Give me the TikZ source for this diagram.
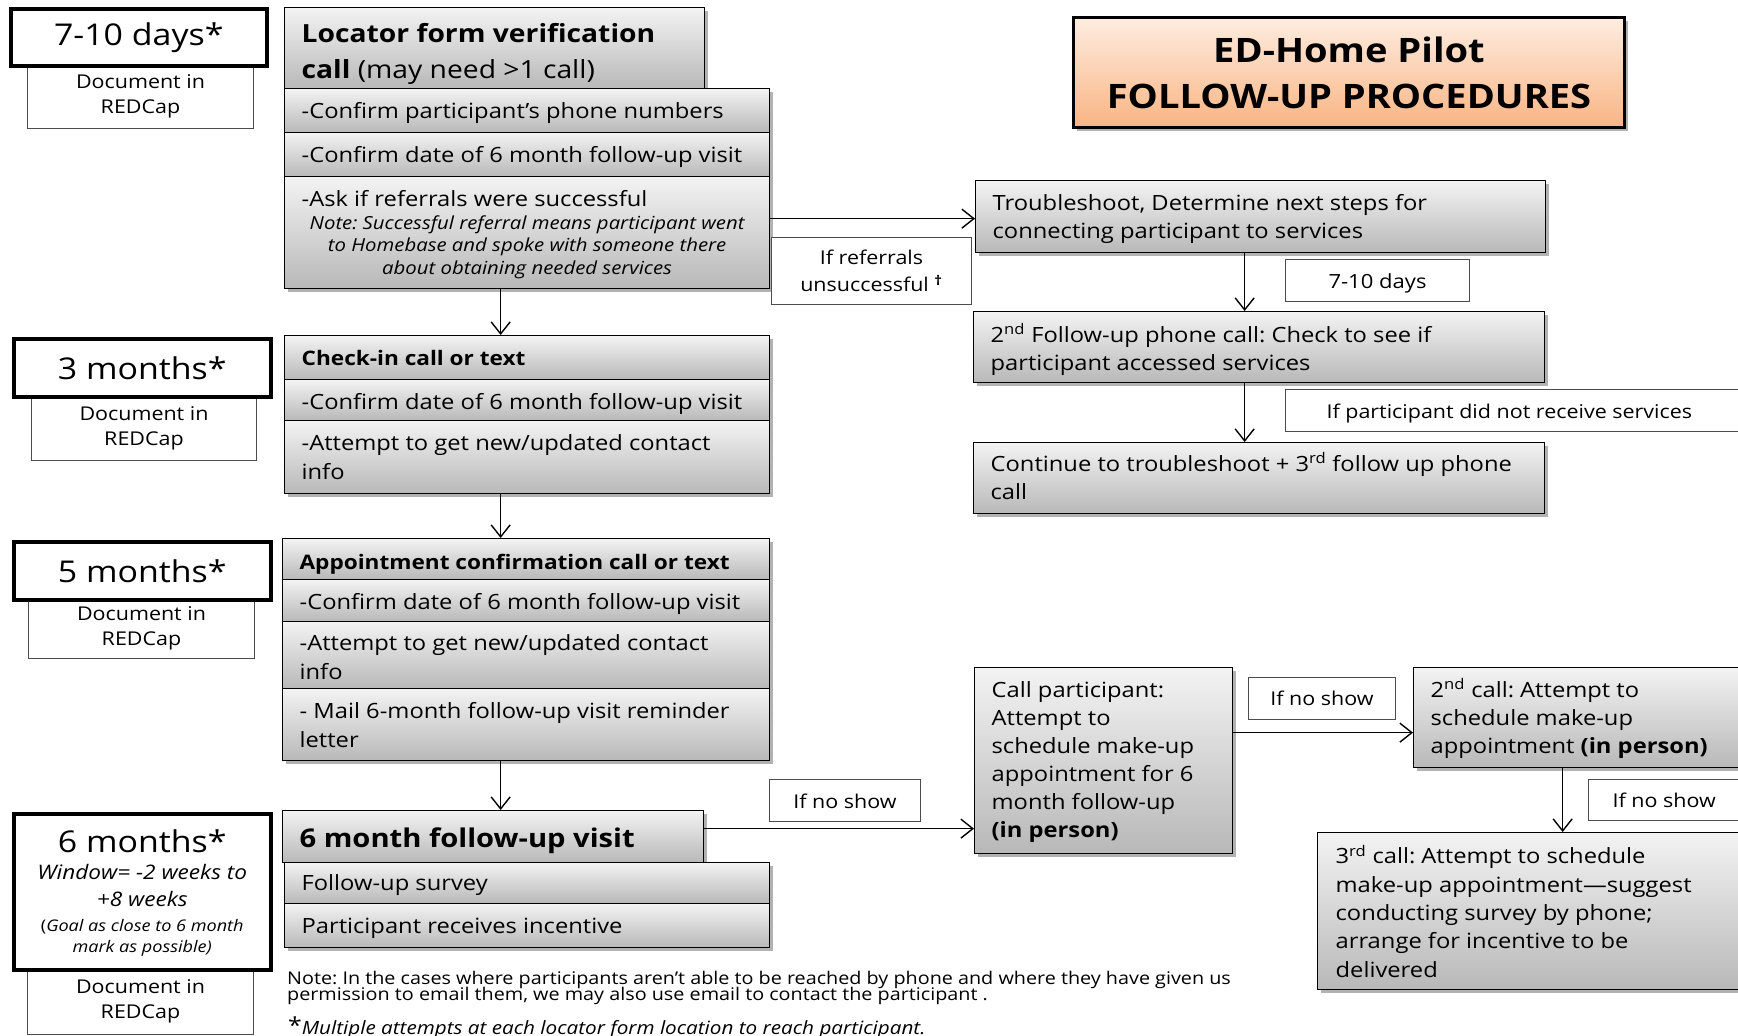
\documentclass[tikz,border=0pt]{standalone}
\usepackage{fontspec}
\setmainfont{Open Sans}[FakeStretch=1.13]
\usetikzlibrary{shadows,arrows.meta}
\definecolor{gtop}{HTML}{F3F3F3}
\definecolor{gbot}{HTML}{B8B8B8}
\definecolor{otop}{HTML}{FEEDE0}
\definecolor{obot}{HTML}{F9B483}
\newcommand\fsz[2]{\fontsize{#1}{#2}\selectfont}
\newcommand\tdn[1]{\rule{0pt}{\dimexpr\fontcharht\font`\l+2\dimexpr #1\relax\relax}}
\frenchspacing
\tikzset{
  shad/.style={drop shadow={shadow xshift=3pt,shadow yshift=-3pt,opacity=0.3,fill=black}},
  tdown/.style={execute at begin node={\tdn{#1}}},
  graybox/.style={rectangle, draw=black, line width=1.3pt, top color=gtop, bottom color=gbot, shad,
    inner sep=0pt, inner xsep=17pt, align=flush left, anchor=north west, font=\fsz{21}{29}},
  titlebox/.style={rectangle, draw=black, line width=3pt, top color=otop, bottom color=obot, shad,
    inner sep=0pt, align=flush center, anchor=north west},
  timebox/.style={rectangle, draw=black, line width=3.5pt, fill=white, inner sep=0pt, align=flush center,
    anchor=north west, font=\fsz{30}{36}},
  docbox/.style={rectangle, draw=black!70, line width=1pt, fill=white, inner sep=0pt, align=flush center,
    anchor=north west, font=\fsz{19}{25}},
  lbl/.style={rectangle, draw=black!70, line width=1pt, fill=white, inner sep=0pt, align=flush center,
    anchor=north west, font=\fsz{19}{27}},
  arr/.style={line width=1.4pt, -{Straight Barb[length=12pt,width=19pt]}},
}
\begin{document}
\begin{tikzpicture}[x=1pt,y=-1pt]
\useasboundingbox (0,0) rectangle (1738,1036);
\clip (0,0) rectangle (1738,1036);
\fill[white] (0,0) rectangle (1738,1036);

% ---------- left column: time boxes ----------
\node[docbox, minimum width=226pt, minimum height=64pt, text width=210pt] (D1) at (27,64) {Document in\\REDCap};
\node[timebox, minimum width=256pt, minimum height=57pt, text width=240pt] (T1) at (9,7) {7-10 days*};

\node[docbox, minimum width=225pt, minimum height=65pt, text width=210pt] (D2) at (31,395) {Document in\\REDCap};
\node[timebox, minimum width=257pt, minimum height=58pt, text width=240pt] (T2) at (12,337) {3 months*};

\node[docbox, minimum width=226pt, minimum height=60pt, text width=210pt] (D3) at (28,598) {Document in\\REDCap};
\node[timebox, minimum width=257pt, minimum height=58pt, text width=240pt] (T3) at (12,540) {5 months*};

\node[docbox, minimum width=226pt, minimum height=66pt, text width=210pt] (D4) at (27,968) {Document in\\REDCap};
\node[timebox, minimum width=257pt, minimum height=156pt, text width=250pt, tdown=1pt] (T4) at (12,812)
 {{\fsz{30}{33}6 months*\par}
  {\fsz{20}{27}\itshape Window= -2 weeks to\\+8 weeks\par}
  \vspace{4.4pt}
  {\fsz{16}{21}(\textit{Goal as close to 6 month}\\\textit{mark as possible)}\par}};

% ---------- left column: gray boxes ----------
\node[graybox, minimum width=420pt, minimum height=81pt, text width=386pt, font=\fsz{25}{36}, tdown=6pt] (L1) at (284,7)
 {\textbf{Locator form verification}\\\textbf{call} (may need >1 call)};
\node[graybox, minimum width=485pt, minimum height=44pt, text width=451pt, tdown=2.2pt] (R1) at (284,88) {-Confirm participant’s phone numbers};
\node[graybox, minimum width=485pt, minimum height=44pt, text width=451pt, tdown=2.2pt] (R2) at (284,132) {-Confirm date of 6 month follow-up visit};
\node[graybox, minimum width=485pt, minimum height=112pt, text width=451pt, tdown=1.8pt] (R3) at (284,176)
 {-Ask if referrals were successful\par
  {\centering\fsz{18}{22.5}\itshape Note: Successful referral means participant went\\to Homebase and spoke with someone there\\about obtaining needed services\par}};

\node[graybox, minimum width=485pt, minimum height=44pt, text width=451pt, font=\fsz{20}{29}] (C1) at (284,335) {\textbf{Check-in call or text}};
\node[graybox, minimum width=485pt, minimum height=41pt, text width=451pt, tdown=3.6pt] (C2) at (284,379) {-Confirm date of 6 month follow-up visit};
\node[graybox, minimum width=485pt, minimum height=73pt, text width=451pt] (C3) at (284,420) {-Attempt to get new/updated contact\\info};

\node[graybox, minimum width=487pt, minimum height=41pt, text width=453pt, font=\fsz{20}{29}, tdown=5.5pt] (P1) at (282,538) {\textbf{Appointment confirmation call or text}};
\node[graybox, minimum width=487pt, minimum height=42pt, text width=453pt, tdown=3.3pt] (P2) at (282,579) {-Confirm date of 6 month follow-up visit};
\node[graybox, minimum width=487pt, minimum height=67pt, text width=453pt, tdown=2.2pt] (P3) at (282,621) {-Attempt to get new/updated contact\\info};
\node[graybox, minimum width=487pt, minimum height=72pt, text width=453pt] (P4) at (282,688) {- Mail 6-month follow-up visit reminder\\letter};

\node[graybox, minimum width=421pt, minimum height=52pt, text width=387pt, font=\fsz{25.8}{32}, tdown=4.4pt] (V0) at (282,810) {\textbf{6 month follow-up visit}};
\node[graybox, minimum width=485pt, minimum height=41pt, text width=451pt, tdown=2.2pt] (V1) at (284,862) {Follow-up survey};
\node[graybox, minimum width=485pt, minimum height=44pt, text width=451pt, tdown=2.6pt] (V2) at (284,903) {Participant receives incentive};

% ---------- title ----------
\node[titlebox, minimum width=551pt, minimum height=110pt, text width=530pt, font=\fsz{33.7}{46}] (TT) at (1072,16)
 {\textbf{ED-Home Pilot}\\\textbf{FOLLOW-UP PROCEDURES}};

% ---------- right side ----------
\node[graybox, minimum width=570pt, minimum height=72pt, text width=536pt, font=\fsz{21}{28}, tdown=2.2pt] (TS) at (975,180)
 {Troubleshoot, Determine next steps for\\connecting participant to services};
\node[graybox, minimum width=571pt, minimum height=71pt, text width=537pt, font=\fsz{21}{28}, tdown=3.9pt] (F2) at (973,311)
 {2\textsuperscript{nd} Follow-up phone call: Check to see if\\participant accessed services};
\node[graybox, minimum width=571pt, minimum height=71pt, text width=537pt, font=\fsz{21}{28}] (CT) at (973,442)
 {Continue to troubleshoot + 3\textsuperscript{rd} follow up phone\\call\rule[-4.5pt]{0pt}{1pt}};

\node[graybox, minimum width=258pt, minimum height=186pt, text width=224pt, font=\fsz{21}{28}, tdown=1.1pt] (CP) at (974,667)
 {Call participant:\\Attempt to\\schedule make-up\\appointment for 6\\month follow-up\\\textbf{(in person)}};
\node[graybox, minimum width=360pt, minimum height=100pt, text width=326pt, font=\fsz{21}{28}, tdown=2.3pt] (SC) at (1413,667)
 {2\textsuperscript{nd} call: Attempt to\\schedule make-up\\appointment \textbf{(in person)}};
\node[graybox, minimum width=450pt, minimum height=157pt, text width=414pt, inner xsep=18pt, font=\fsz{21}{28.3}] (TC) at (1317,832)
 {3\textsuperscript{rd} call: Attempt to schedule\\make-up appointment—suggest\\conducting survey by phone;\\arrange for incentive to be\\delivered};

% ---------- labels ----------
\node[lbl, minimum width=200pt, minimum height=67pt, text width=190pt] (LR) at (771,237)
 {If referrals\\unsuccessful \textsuperscript{\textbf{†}}};
\node[lbl, minimum width=184pt, minimum height=42pt, text width=170pt, font=\fsz{19.5}{27}, tdown=3.3pt] (LD) at (1285,259) {7-10 days};
\node[lbl, minimum width=480pt, minimum height=42pt, text width=398pt, inner xsep=41pt, align=flush left, tdown=3.3pt] (LP) at (1285,389)
 {If participant did not receive services};
\node[lbl, minimum width=151pt, minimum height=42pt, text width=140pt, tdown=1pt] (LN1) at (769,779) {If no show};
\node[lbl, minimum width=147pt, minimum height=42pt, text width=136pt] (LN2) at (1248,677) {If no show};
\node[lbl, minimum width=180pt, minimum height=41pt, text width=132pt, inner xsep=24pt, align=flush left] (LN3) at (1588,779) {If no show};

% ---------- footnotes ----------
\node[anchor=north west, inner sep=0pt, align=flush left, text width=1100pt, font=\fsz{17.5}{15.8}] (N1) at (287,971)
 {\lineskiplimit=-100pt\relax Note: In the cases where participants aren’t able to be reached by phone and where they have given us\\permission to email them, we may also use email to contact the participant .\par};
\node[anchor=base west, inner sep=0pt, font=\fsz{18.3}{20}] (N2) at (288,1034)
 {\raisebox{1pt}{\fsz{22}{20}*}\textit{Multiple attempts at each locator form location to reach participant.}};

% ---------- connectors ----------
\draw[arr] ([xshift=-26.5pt]R3.south) -- ([xshift=-26.5pt]C1.north);
\draw[arr] ([xshift=-26.5pt]C3.south) -- ([xshift=-26.5pt]C3.south |- P1.north);
\draw[arr] ([xshift=-25.5pt]P4.south) -- ([xshift=-25.5pt]P4.south |- V0.north);
\draw[arr] ([yshift=14pt]R3.east) -- ([yshift=14pt]R3.east -| TS.west);
\draw[arr] ([xshift=-16pt]TS.south) -- ([xshift=-16pt]TS.south |- F2.north);
\draw[arr] ([xshift=-14.5pt]F2.south) -- ([xshift=-14.5pt]F2.south |- CT.north);
\draw[arr] ([yshift=8pt]V0.east) -- ([yshift=8pt]V0.east -| CP.west);
\draw[arr] ([yshift=28pt]CP.east) -- ([yshift=28pt]CP.east -| SC.west);
\draw[arr] ([xshift=-31pt]SC.south) -- ([xshift=-31pt]SC.south |- TC.north);
\end{tikzpicture}
\end{document}
